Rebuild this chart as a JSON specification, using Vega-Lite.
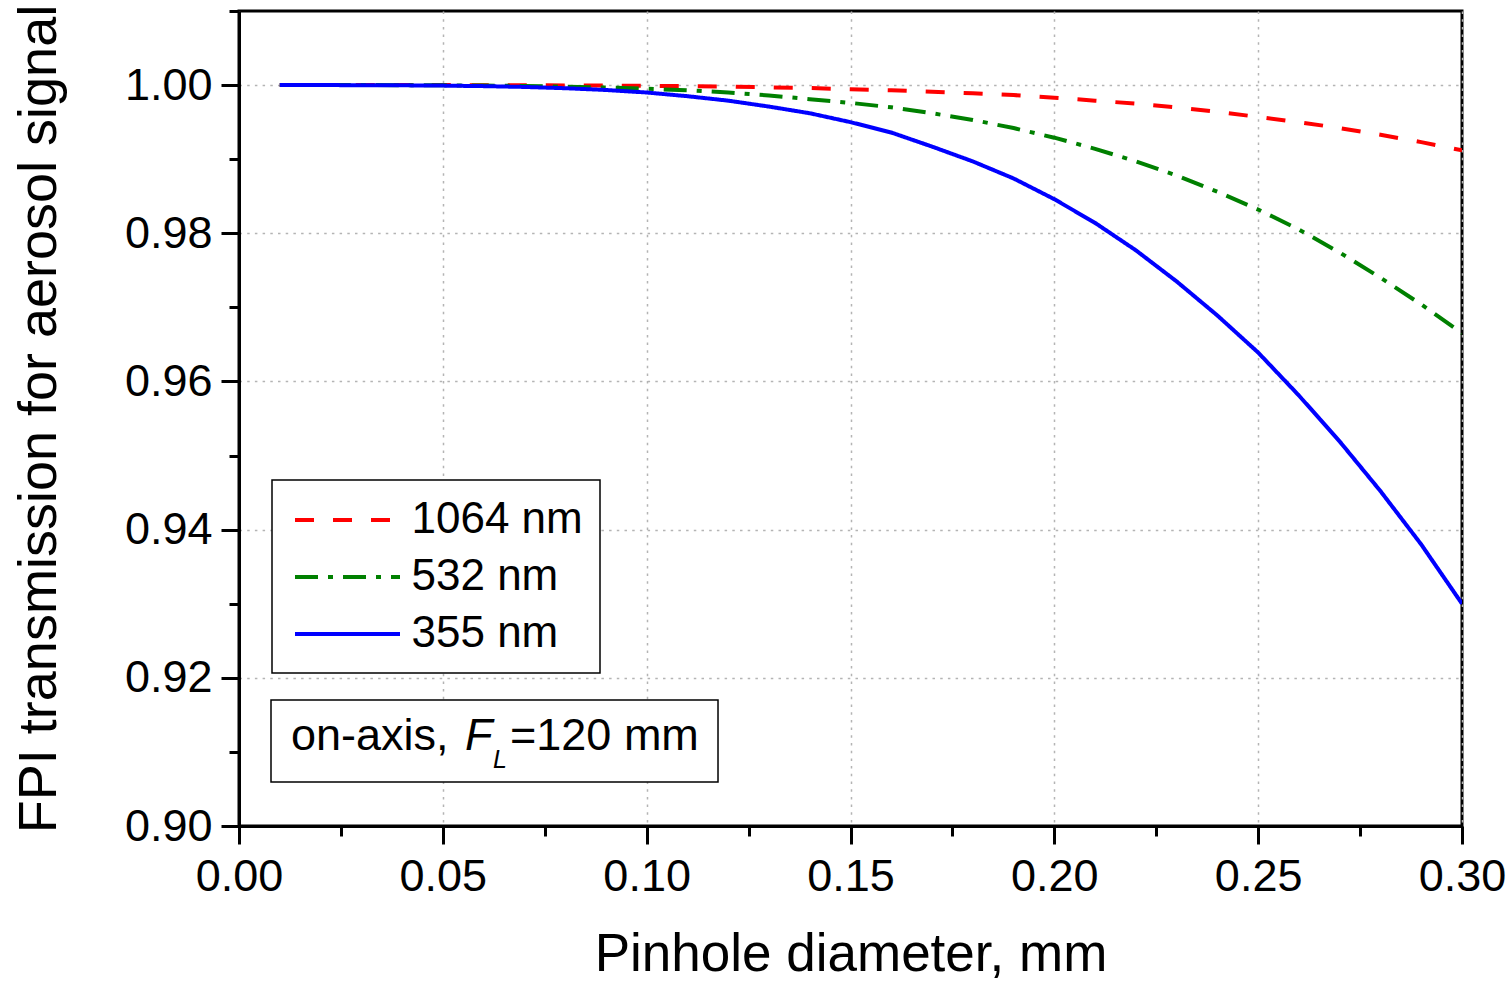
{
  "$schema": "https://vega.github.io/schema/vega-lite/v6.json",
  "width": 1223,
  "height": 815,
  "autosize": {"type": "none"},
  "padding": {"left": 239, "top": 11, "right": 47, "bottom": 156},
  "background": "white",
  "config": {
    "font": "Liberation Sans",
    "view": {"stroke": "black", "strokeWidth": 3}
  },
  "layer": [
    {
      "data": {
        "values": [
          {"d": 0.01, "T": 1.0, "wl": "1064 nm"},
          {"d": 0.02, "T": 1.0, "wl": "1064 nm"},
          {"d": 0.03, "T": 1.0, "wl": "1064 nm"},
          {"d": 0.04, "T": 1.0, "wl": "1064 nm"},
          {"d": 0.05, "T": 1.0, "wl": "1064 nm"},
          {"d": 0.06, "T": 0.99999, "wl": "1064 nm"},
          {"d": 0.07, "T": 0.99998, "wl": "1064 nm"},
          {"d": 0.08, "T": 0.99996, "wl": "1064 nm"},
          {"d": 0.09, "T": 0.99993, "wl": "1064 nm"},
          {"d": 0.10, "T": 0.9999, "wl": "1064 nm"},
          {"d": 0.11, "T": 0.99985, "wl": "1064 nm"},
          {"d": 0.12, "T": 0.9998, "wl": "1064 nm"},
          {"d": 0.13, "T": 0.9997, "wl": "1064 nm"},
          {"d": 0.14, "T": 0.9996, "wl": "1064 nm"},
          {"d": 0.15, "T": 0.99945, "wl": "1064 nm"},
          {"d": 0.16, "T": 0.9993, "wl": "1064 nm"},
          {"d": 0.17, "T": 0.9991, "wl": "1064 nm"},
          {"d": 0.18, "T": 0.9989, "wl": "1064 nm"},
          {"d": 0.19, "T": 0.99865, "wl": "1064 nm"},
          {"d": 0.20, "T": 0.9983, "wl": "1064 nm"},
          {"d": 0.21, "T": 0.9979, "wl": "1064 nm"},
          {"d": 0.22, "T": 0.9975, "wl": "1064 nm"},
          {"d": 0.23, "T": 0.997, "wl": "1064 nm"},
          {"d": 0.24, "T": 0.9964, "wl": "1064 nm"},
          {"d": 0.25, "T": 0.9957, "wl": "1064 nm"},
          {"d": 0.26, "T": 0.995, "wl": "1064 nm"},
          {"d": 0.27, "T": 0.9942, "wl": "1064 nm"},
          {"d": 0.28, "T": 0.9933, "wl": "1064 nm"},
          {"d": 0.29, "T": 0.9923, "wl": "1064 nm"},
          {"d": 0.30, "T": 0.9912, "wl": "1064 nm"},
          {"d": 0.01, "T": 1.0, "wl": "532 nm"},
          {"d": 0.02, "T": 1.0, "wl": "532 nm"},
          {"d": 0.03, "T": 1.0, "wl": "532 nm"},
          {"d": 0.04, "T": 0.99999, "wl": "532 nm"},
          {"d": 0.05, "T": 0.99997, "wl": "532 nm"},
          {"d": 0.06, "T": 0.99994, "wl": "532 nm"},
          {"d": 0.07, "T": 0.99988, "wl": "532 nm"},
          {"d": 0.08, "T": 0.9998, "wl": "532 nm"},
          {"d": 0.09, "T": 0.99967, "wl": "532 nm"},
          {"d": 0.10, "T": 0.9995, "wl": "532 nm"},
          {"d": 0.11, "T": 0.9993, "wl": "532 nm"},
          {"d": 0.12, "T": 0.999, "wl": "532 nm"},
          {"d": 0.13, "T": 0.9986, "wl": "532 nm"},
          {"d": 0.14, "T": 0.9981, "wl": "532 nm"},
          {"d": 0.15, "T": 0.9976, "wl": "532 nm"},
          {"d": 0.16, "T": 0.997, "wl": "532 nm"},
          {"d": 0.17, "T": 0.9962, "wl": "532 nm"},
          {"d": 0.18, "T": 0.9953, "wl": "532 nm"},
          {"d": 0.19, "T": 0.9942, "wl": "532 nm"},
          {"d": 0.20, "T": 0.9929, "wl": "532 nm"},
          {"d": 0.21, "T": 0.9914, "wl": "532 nm"},
          {"d": 0.22, "T": 0.9897, "wl": "532 nm"},
          {"d": 0.23, "T": 0.9878, "wl": "532 nm"},
          {"d": 0.24, "T": 0.9856, "wl": "532 nm"},
          {"d": 0.25, "T": 0.9832, "wl": "532 nm"},
          {"d": 0.26, "T": 0.9805, "wl": "532 nm"},
          {"d": 0.27, "T": 0.9774, "wl": "532 nm"},
          {"d": 0.28, "T": 0.974, "wl": "532 nm"},
          {"d": 0.29, "T": 0.9704, "wl": "532 nm"},
          {"d": 0.30, "T": 0.9665, "wl": "532 nm"},
          {"d": 0.01, "T": 1.0, "wl": "355 nm"},
          {"d": 0.02, "T": 1.0, "wl": "355 nm"},
          {"d": 0.03, "T": 0.99999, "wl": "355 nm"},
          {"d": 0.04, "T": 0.99997, "wl": "355 nm"},
          {"d": 0.05, "T": 0.99993, "wl": "355 nm"},
          {"d": 0.06, "T": 0.99986, "wl": "355 nm"},
          {"d": 0.07, "T": 0.99975, "wl": "355 nm"},
          {"d": 0.08, "T": 0.99958, "wl": "355 nm"},
          {"d": 0.09, "T": 0.99934, "wl": "355 nm"},
          {"d": 0.10, "T": 0.999, "wl": "355 nm"},
          {"d": 0.11, "T": 0.9985, "wl": "355 nm"},
          {"d": 0.12, "T": 0.9979, "wl": "355 nm"},
          {"d": 0.13, "T": 0.9971, "wl": "355 nm"},
          {"d": 0.14, "T": 0.9962, "wl": "355 nm"},
          {"d": 0.15, "T": 0.995, "wl": "355 nm"},
          {"d": 0.16, "T": 0.9936, "wl": "355 nm"},
          {"d": 0.17, "T": 0.9917, "wl": "355 nm"},
          {"d": 0.18, "T": 0.9897, "wl": "355 nm"},
          {"d": 0.19, "T": 0.9874, "wl": "355 nm"},
          {"d": 0.20, "T": 0.9846, "wl": "355 nm"},
          {"d": 0.21, "T": 0.9814, "wl": "355 nm"},
          {"d": 0.22, "T": 0.9777, "wl": "355 nm"},
          {"d": 0.23, "T": 0.9735, "wl": "355 nm"},
          {"d": 0.24, "T": 0.9689, "wl": "355 nm"},
          {"d": 0.25, "T": 0.9639, "wl": "355 nm"},
          {"d": 0.26, "T": 0.9581, "wl": "355 nm"},
          {"d": 0.27, "T": 0.9519, "wl": "355 nm"},
          {"d": 0.28, "T": 0.9452, "wl": "355 nm"},
          {"d": 0.29, "T": 0.938, "wl": "355 nm"},
          {"d": 0.30, "T": 0.93, "wl": "355 nm"}
        ]
      },
      "mark": {"type": "line", "strokeWidth": 4, "clip": true},
      "encoding": {
        "x": {
          "field": "d",
          "type": "quantitative",
          "scale": {"domain": [0, 0.3], "nice": false, "zero": false},
          "axis": {
            "title": "Pinhole diameter, mm",
            "titleFont": "Liberation Sans",
            "titleFontSize": 53,
            "titleFontWeight": "normal",
            "titleColor": "black",
            "titleBaseline": "alphabetic",
            "titleY": 144,
            "values": [0, 0.025, 0.05, 0.075, 0.1, 0.125, 0.15, 0.175, 0.2, 0.225, 0.25, 0.275, 0.3],
            "format": ".2f",
            "labelExpr": "abs(datum.value*20 - round(datum.value*20)) < 0.001 ? datum.label : ''",
            "labelFont": "Liberation Sans",
            "labelFontSize": 45,
            "labelColor": "black",
            "labelPadding": 10,
            "labelFlush": false,
            "labelBound": false,
            "labelOverlap": false,
            "domainColor": "black",
            "domainWidth": 3,
            "tickColor": "black",
            "tickWidth": 3,
            "tickSize": {"condition": {"test": "abs(datum.value*20 - round(datum.value*20)) < 0.001", "value": 18}, "value": 10},
            "grid": true,
            "gridColor": "#b4b4b4",
            "gridWidth": 1.5,
            "gridDash": [2.5, 5.2],
            "gridOpacity": {"condition": {"test": "abs(datum.value*20 - round(datum.value*20)) < 0.001", "value": 1}, "value": 0}
          }
        },
        "y": {
          "field": "T",
          "type": "quantitative",
          "scale": {"domain": [0.9, 1.01], "nice": false, "zero": false},
          "axis": {
            "title": "FPI transmission for aerosol signal",
            "titleFont": "Liberation Sans",
            "titleFontSize": 54,
            "titleFontWeight": "normal",
            "titleColor": "black",
            "titleBaseline": "alphabetic",
            "titleX": -184,
            "values": [0.9, 0.91, 0.92, 0.93, 0.94, 0.95, 0.96, 0.97, 0.98, 0.99, 1.0, 1.01],
            "format": ".2f",
            "labelExpr": "abs(datum.value*50 - round(datum.value*50)) < 0.001 ? datum.label : ''",
            "labelFont": "Liberation Sans",
            "labelFontSize": 45,
            "labelColor": "black",
            "labelPadding": 9,
            "labelFlush": false,
            "labelBound": false,
            "labelOverlap": false,
            "domainColor": "black",
            "domainWidth": 3,
            "tickColor": "black",
            "tickWidth": 3,
            "tickSize": {"condition": {"test": "abs(datum.value*50 - round(datum.value*50)) < 0.001", "value": 18}, "value": 10},
            "grid": true,
            "gridColor": "#b4b4b4",
            "gridWidth": 1.5,
            "gridDash": [2.5, 5.2],
            "gridOpacity": {"condition": {"test": "abs(datum.value*50 - round(datum.value*50)) < 0.001", "value": 1}, "value": 0}
          }
        },
        "color": {
          "field": "wl",
          "type": "nominal",
          "sort": ["1064 nm", "532 nm", "355 nm"],
          "scale": {"domain": ["1064 nm", "532 nm", "355 nm"], "range": ["#ff0000", "#008000", "#0000ff"]},
          "legend": {
            "title": null,
            "orient": "none",
            "legendX": 33,
            "legendY": 469,
            "strokeColor": "black",
            "fillColor": "white",
            "padding": 17,
            "symbolType": "M-2.5,0H2.5",
            "symbolSize": 1764,
            "symbolStrokeWidth": 4,
            "symbolOffset": 35.5,
            "labelOffset": 41,
            "labelFont": "Liberation Sans",
            "labelFontSize": 44,
            "labelColor": "black",
            "labelLimit": 0,
            "rowPadding": 12,
            "encode": {"legend": {"update": {"strokeWidth": {"value": 1.5}}}}
          }
        },
        "strokeDash": {
          "field": "wl",
          "type": "nominal",
          "sort": ["1064 nm", "532 nm", "355 nm"],
          "scale": {"domain": ["1064 nm", "532 nm", "355 nm"], "range": [[19, 19], [23, 10, 5, 10], [1, 0]]},
          "legend": {
            "title": null,
            "orient": "none",
            "legendX": 33,
            "legendY": 469,
            "strokeColor": "black",
            "fillColor": "white",
            "padding": 17,
            "symbolType": "M-2.5,0H2.5",
            "symbolSize": 1764,
            "symbolStrokeWidth": 4,
            "symbolOffset": 35.5,
            "labelOffset": 41,
            "labelFont": "Liberation Sans",
            "labelFontSize": 44,
            "labelColor": "black",
            "labelLimit": 0,
            "rowPadding": 12,
            "encode": {"legend": {"update": {"strokeWidth": {"value": 1.5}}}}
          }
        }
      }
    },
    {
      "data": {"values": [{"d": 0.00785, "d2": 0.1175, "T": 0.90594, "T2": 0.917}]},
      "mark": {"type": "rect", "fill": "white", "stroke": "black", "strokeWidth": 1.5},
      "encoding": {
        "x": {"field": "d", "type": "quantitative"},
        "x2": {"field": "d2"},
        "y": {"field": "T", "type": "quantitative"},
        "y2": {"field": "T2"}
      }
    },
    {
      "data": {"values": [
        {"d": 0.01276, "T": 0.910256, "t": "on-axis, "},
        {"d": 0.06648, "T": 0.910256, "t": "=120 mm"}
      ]},
      "mark": {"type": "text", "font": "Liberation Sans", "fontSize": 45, "align": "left", "baseline": "alphabetic", "color": "black"},
      "encoding": {
        "x": {"field": "d", "type": "quantitative"},
        "y": {"field": "T", "type": "quantitative"},
        "text": {"field": "t"}
      }
    },
    {
      "data": {"values": [{"d": 0.05544, "T": 0.910256, "t": "F"}]},
      "mark": {"type": "text", "font": "Liberation Sans", "fontSize": 45, "fontStyle": "italic", "align": "left", "baseline": "alphabetic", "color": "black"},
      "encoding": {
        "x": {"field": "d", "type": "quantitative"},
        "y": {"field": "T", "type": "quantitative"},
        "text": {"field": "t"}
      }
    },
    {
      "data": {"values": [{"d": 0.06231, "T": 0.910256, "t": "L"}]},
      "mark": {"type": "text", "font": "Liberation Sans", "fontSize": 25, "fontStyle": "italic", "align": "left", "baseline": "alphabetic", "dy": 18, "color": "black"},
      "encoding": {
        "x": {"field": "d", "type": "quantitative"},
        "y": {"field": "T", "type": "quantitative"},
        "text": {"field": "t"}
      }
    }
  ]
}
